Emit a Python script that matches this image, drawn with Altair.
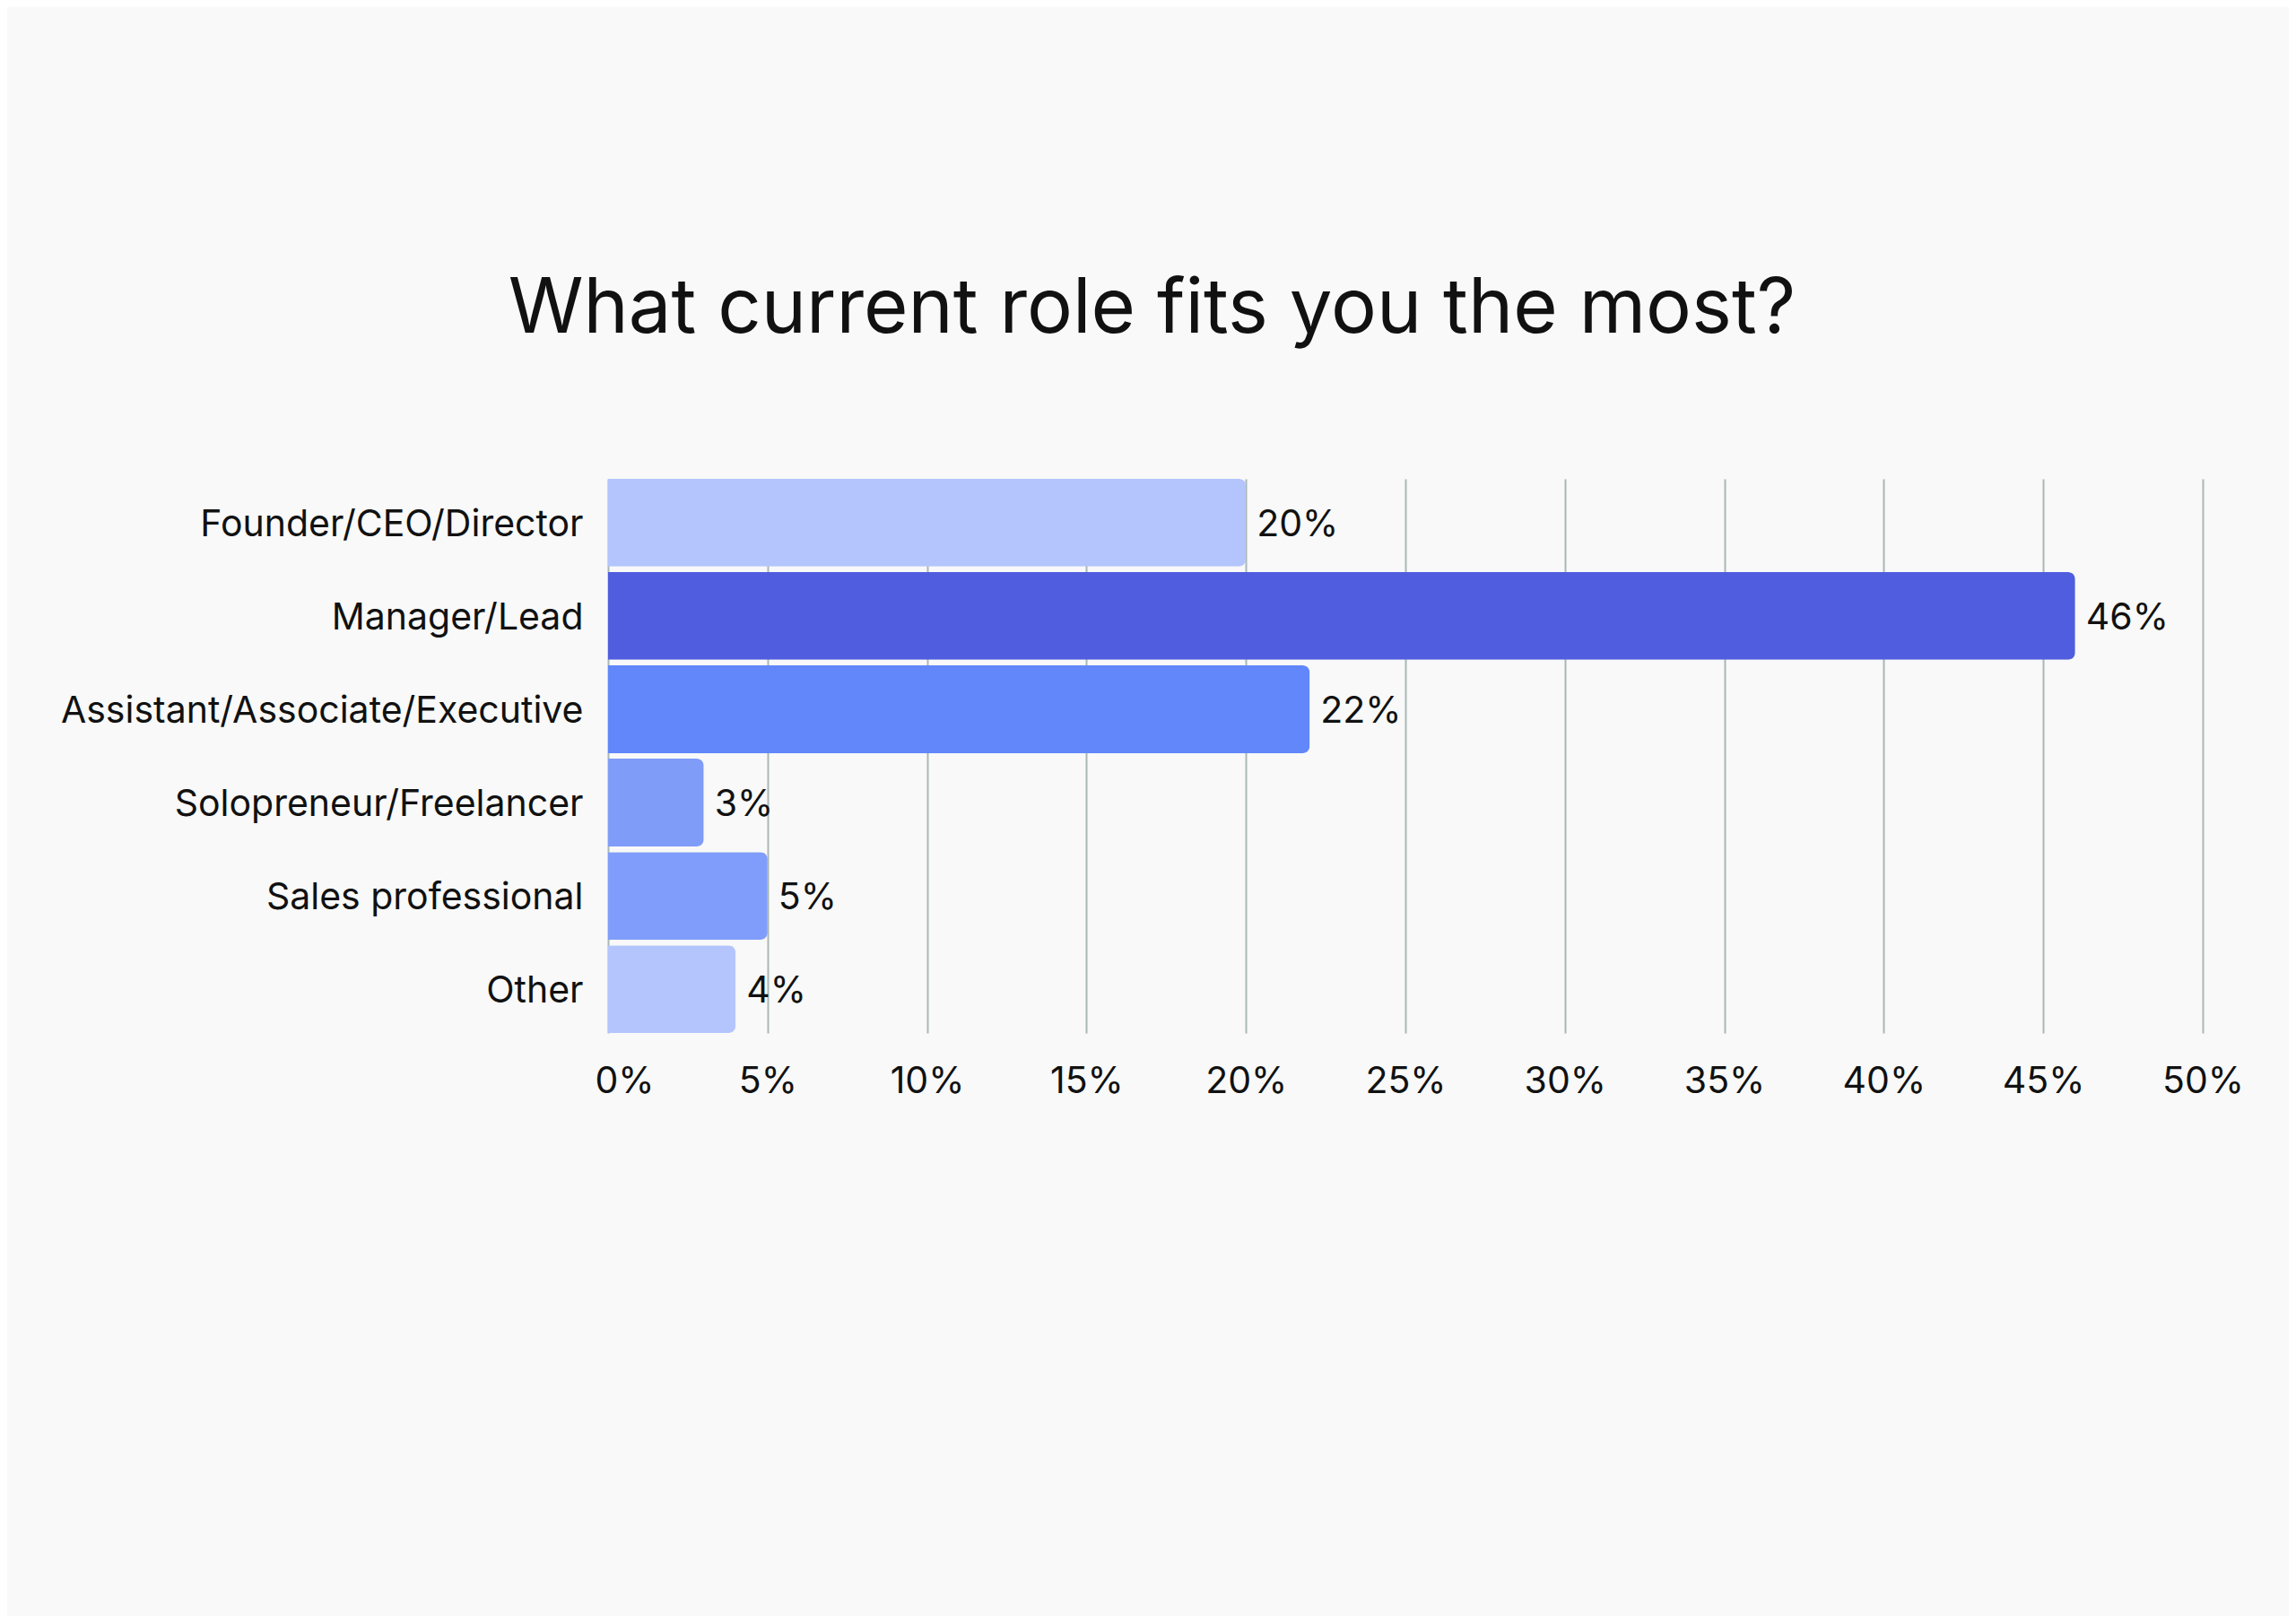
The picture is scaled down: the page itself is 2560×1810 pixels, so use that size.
import altair as alt
import pandas as pd

roles = ["Founder/CEO/Director", "Manager/Lead", "Assistant/Associate/Executive",
         "Solopreneur/Freelancer", "Sales professional", "Other"]
values = [20, 46, 22, 3, 5, 4]
colors = ["#b4c5fd", "#505ddf", "#6187fb", "#809cf9", "#809dfb", "#b4c5fd"]

df = pd.DataFrame({"role": roles, "value": values, "color": colors,
                   "label": [f"{v}%" for v in values]})

FONT = "Inter"
TXT = "#111111"

y = alt.Y("role:N", sort=roles, title=None,
          scale=alt.Scale(paddingInner=0.06, paddingOuter=0),
          axis=alt.Axis(labelFont=FONT, labelFontSize=41, labelColor=TXT,
                        labelPadding=28, ticks=False, domain=False, grid=False,
                        labelLimit=1000, labelOffset=3))
x = alt.X("value:Q", title=None,
          scale=alt.Scale(domain=[0, 50], nice=False),
          axis=alt.Axis(values=list(range(0, 55, 5)), labelExpr="datum.value + '%'",
                        labelFont=FONT, labelFontSize=41, labelColor=TXT,
                        labelPadding=34, ticks=False, domain=False,
                        grid=True, gridColor="#a9b8b5", gridWidth=2,
                        labelFlush=False,
                        labelOffset={"condition": {"test": "datum.value == 0", "value": 18},
                                     "value": 0}))

bars = alt.Chart(df).mark_bar(cornerRadiusEnd=8).encode(
    x=x, y=y, color=alt.Color("color:N", scale=None))

labels = alt.Chart(df).mark_text(align="left", baseline="middle", dx=12, dy=3,
                                 font=FONT, fontSize=41, color=TXT).encode(
    x="value:Q", y=alt.Y("role:N", sort=roles), text="label:N")

chart = alt.layer(bars, labels).properties(
    width=1778, height=618,
    title=alt.TitleParams("What current role fits you the most?", font=FONT,
                          fontSize=85, fontWeight=400, color=TXT,
                          anchor="middle", frame="bounds",
                          baseline="alphabetic", offset=78),
    background="#f8f9f8",
    padding={"left": 670, "top": 526, "right": 96, "bottom": 650},
    autosize=alt.AutoSizeParams(type="none"),
).configure_view(stroke=None)

chart.save("out.html", embed_options={"renderer": "svg", "actions": False})
